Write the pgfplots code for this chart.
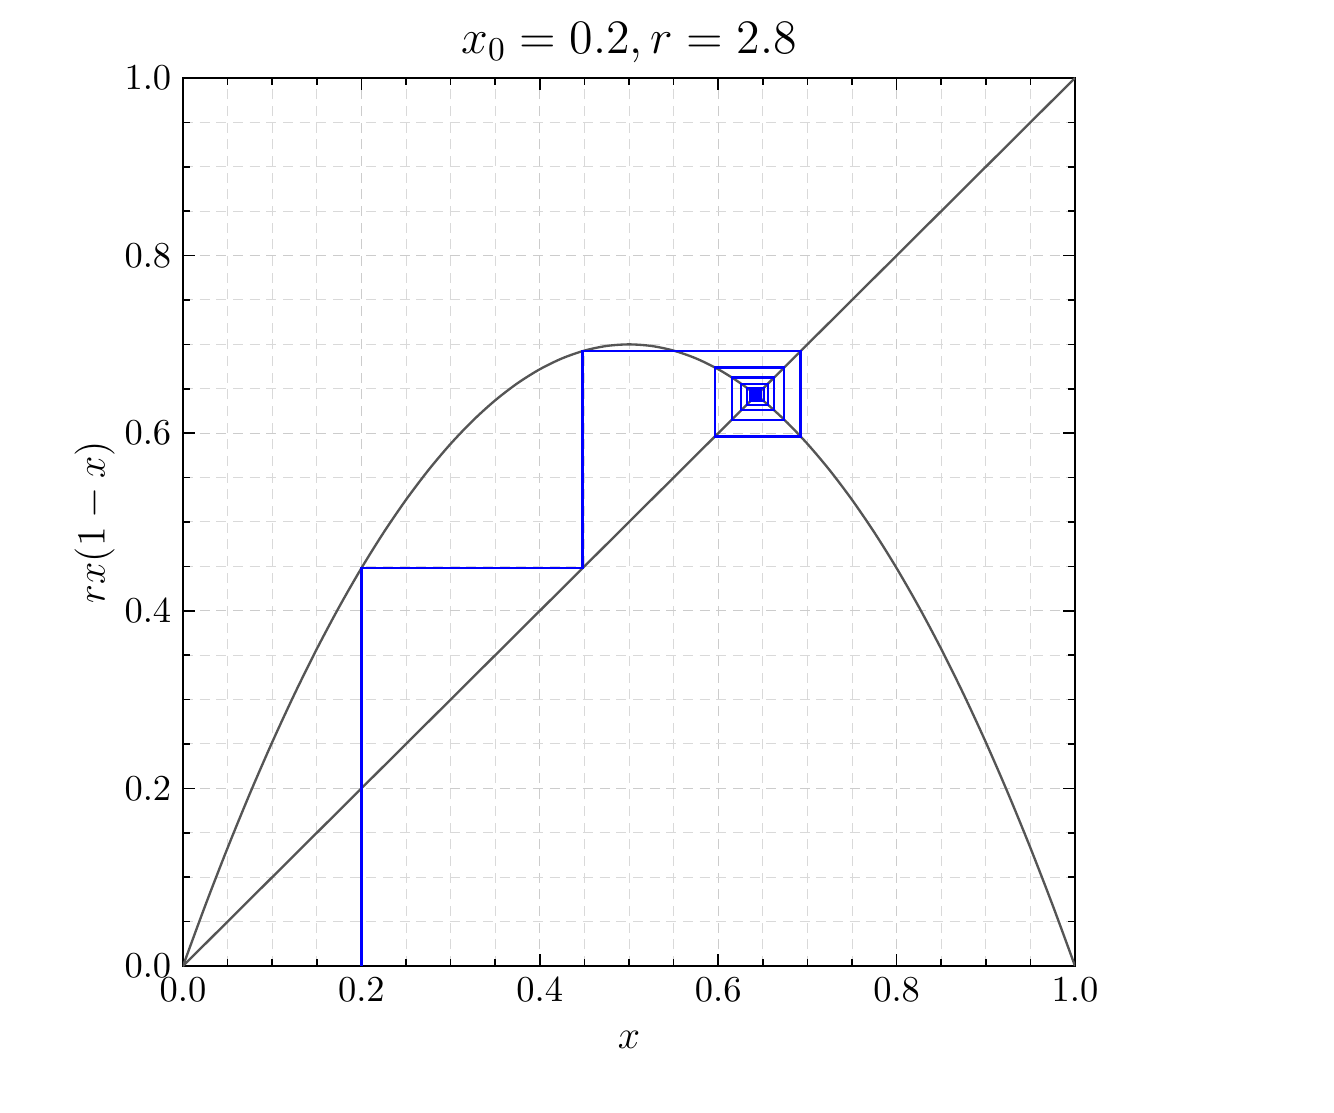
\documentclass[border=0pt]{standalone}
\usepackage{pgfplots}
\pgfplotsset{compat=1.18}
\definecolor{curvegray}{HTML}{555555}
\begin{document}
\begin{tikzpicture}
\begin{axis}[scale only axis, width=267.6pt, height=266.4pt,
  xmin=0, xmax=1, ymin=0, ymax=1,
  xtick={0,0.2,...,1.0}, ytick={0,0.2,...,1.0}, minor tick num=3,
  tick align=inside, xtick pos=both, ytick pos=both,
  major tick length=3.5pt, minor tick length=2pt,
  grid=both,
  major grid style={densely dashed, gray!40, line width=0.3pt},
  minor grid style={densely dashed, gray!30, line width=0.3pt},
  axis line style={line width=0.8pt},
  tick style={black, line width=0.5pt},
  xticklabel style={/pgf/number format/.cd, fixed, fixed zerofill, precision=1},
  yticklabel style={/pgf/number format/.cd, fixed, fixed zerofill, precision=1},
  tick label style={font=\fontsize{11.2}{13}\selectfont},
  xlabel={$x$}, ylabel={$rx(1-x)$},
  label style={font=\fontsize{11.8}{14}\selectfont},
  xlabel style={at={(axis description cs:0.5,-0.083)}, anchor=center},
  ylabel style={at={(axis description cs:-0.099,0.5)}, anchor=center},
  title={$x_0 = 0.2, r = 2.8$},
  every axis title shift=0pt,
  title style={font=\fontsize{14}{17}\selectfont, at={(axis description cs:0.5,1.04)}, anchor=center},
  ]
\addplot[curvegray, line width=0.7pt] coordinates {(0,0)(1,1)};
\addplot[curvegray, line width=0.7pt, smooth] coordinates {
(0,0)(0.025,0.06825)(0.05,0.133)(0.075,0.19425)(0.1,0.252)(0.125,0.30625)
(0.15,0.357)(0.175,0.40425)(0.2,0.448)(0.225,0.48825)(0.25,0.525)
(0.275,0.55825)(0.3,0.588)(0.325,0.61425)(0.35,0.637)(0.375,0.65625)
(0.4,0.672)(0.425,0.68425)(0.45,0.693)(0.475,0.69825)(0.5,0.7)
(0.525,0.69825)(0.55,0.693)(0.575,0.68425)(0.6,0.672)(0.625,0.65625)
(0.65,0.637)(0.675,0.61425)(0.7,0.588)(0.725,0.55825)(0.75,0.525)
(0.775,0.48825)(0.8,0.448)(0.825,0.40425)(0.85,0.357)(0.875,0.30625)
(0.9,0.252)(0.925,0.19425)(0.95,0.133)(0.975,0.06825)(1,0)};
\addplot[blue, line width=0.7pt] coordinates {
(0.2,0)(0.2,0.448)(0.448,0.448)(0.448,0.69243)(0.69243,0.69243)
(0.69243,0.59632)(0.59632,0.59632)(0.59632,0.67402)(0.67402,0.67402)
(0.67402,0.61521)(0.61521,0.61521)(0.61521,0.66283)(0.66283,0.66283)
(0.66283,0.62576)(0.62576,0.62576)(0.62576,0.65571)(0.65571,0.65571)
(0.65571,0.63211)(0.63211,0.63211)(0.63211,0.65113)(0.65113,0.65113)
(0.65113,0.63605)(0.63605,0.63605)(0.63605,0.64817)(0.64817,0.64817)
(0.64817,0.63853)(0.63853,0.63853)(0.63853,0.64627)(0.64627,0.64627)
(0.64627,0.64009)(0.64009,0.64009)(0.64009,0.64505)(0.64505,0.64505)
(0.64505,0.64109)(0.64109,0.64109)(0.64109,0.64426)(0.64426,0.64426)
(0.64426,0.64173)(0.64173,0.64173)(0.64173,0.64376)(0.64376,0.64376)
(0.64376,0.64213)(0.64213,0.64213)(0.64213,0.64344)(0.64344,0.64344)
(0.64344,0.64239)(0.64239,0.64239)};
\end{axis}
\path ([shift={(-54.9pt,-43.8pt)}]current axis.south west) rectangle ([shift={(345.3pt,289.8pt)}]current axis.south west);
\end{tikzpicture}
\end{document}
